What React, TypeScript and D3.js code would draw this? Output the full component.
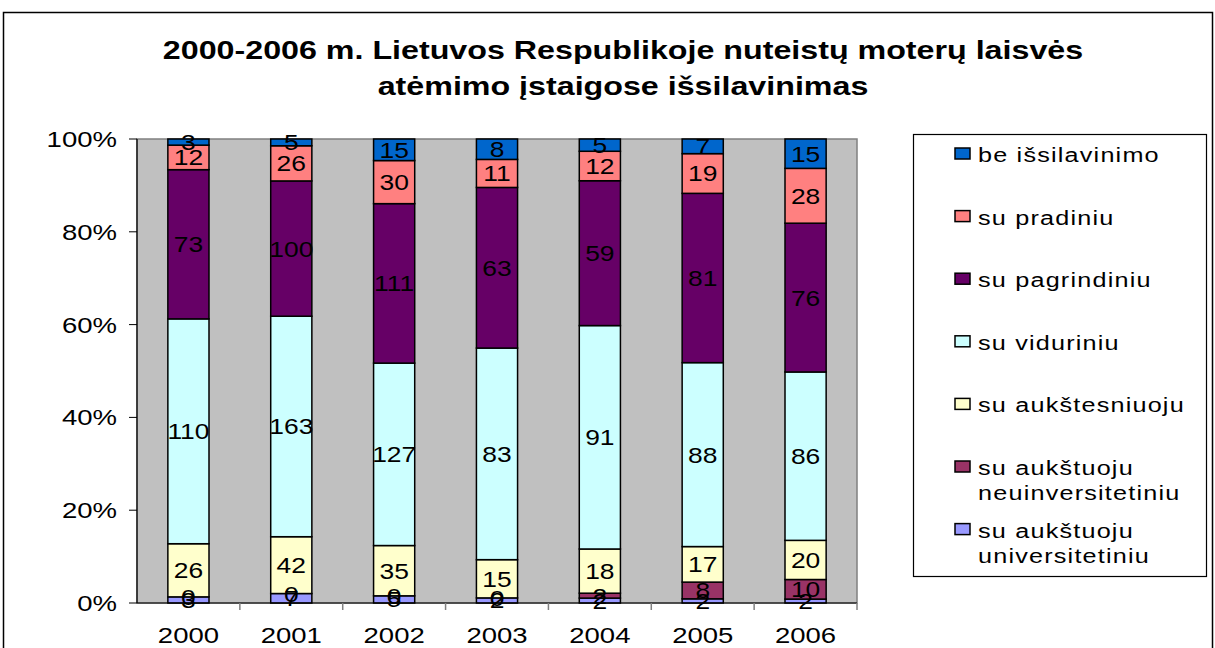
import React from "react";
import * as d3 from "d3";

const years = ["2000", "2001", "2002", "2003", "2004", "2005", "2006"];
const seriesNames = [
  "su aukštuoju universitetiniu",
  "su aukštuoju neuinversitetiniu",
  "su aukštesniuoju",
  "su viduriniu",
  "su pagrindiniu",
  "su pradiniu",
  "be išsilavinimo",
];
const univ = [3, 7, 5, 2, 2, 2, 2];
const neuniv = [0, 0, 0, 0, 2, 8, 10];
const aukstesn = [26, 42, 35, 15, 18, 17, 20];
const vidur = [110, 163, 127, 83, 91, 88, 86];
const pagr = [73, 100, 111, 63, 59, 81, 76];
const prad = [12, 26, 30, 11, 12, 19, 28];
const be = [3, 5, 15, 8, 5, 7, 15];
const colors = ["#9999FF", "#993366", "#FFFFCC", "#CCFFFF", "#660066", "#FF8080", "#0066CC"];
const yTicks = [0, 0.2, 0.4, 0.6, 0.8, 1];
const titleLines = [
  "2000-2006 m. Lietuvos Respublikoje nuteistų moterų laisvės",
  "atėmimo įstaigose išsilavinimas",
];
const legendLines = [
  ["be išsilavinimo"],
  ["su pradiniu"],
  ["su pagrindiniu"],
  ["su viduriniu"],
  ["su aukštesniuoju"],
  ["su aukštuoju", "neuinversitetiniu"],
  ["su aukštuoju", "universitetiniu"],
];

const FONT = "'Liberation Sans', Arial, sans-serif";

function T(props: {
  x: number;
  y: number;
  children: React.ReactNode;
  size: number;
  anchor?: string;
  weight?: string;
  sx?: number;
  ls?: number;
}) {
  const { x, y, children, size, anchor = "start", weight = "normal", sx = 1.2, ls = 0 } = props;
  return (
    <text
      transform={`translate(${x},${y}) scale(${sx},1)`}
      fontFamily={FONT}
      fontSize={size}
      fontWeight={weight}
      textAnchor={anchor}
      letterSpacing={ls}
      fill="#000"
    >
      {children}
    </text>
  );
}

export default function App() {
  const W = 1215;
  const H = 648;
  const left = 137, right = 857, top = 139, bottom = 603;
  const seriesData = [univ, neuniv, aukstesn, vidur, pagr, prad, be];

  const x = d3.scaleBand<string>().domain(years).range([left, right]).paddingInner(0.6).paddingOuter(0.3);
  const xb = d3.scaleBand<string>().domain(years).range([left, right]);
  const y = d3.scaleLinear().domain([0, 1]).range([bottom, top]);

  const rows = years.map((yr, i) => {
    const r: any = { year: yr };
    seriesNames.forEach((s, k) => (r[s] = seriesData[k][i]));
    return r;
  });
  const stacked = d3.stack<any>().keys(seriesNames).offset(d3.stackOffsetExpand)(rows);

  return (
    <svg width={W} height={H} style={{ position: "absolute", left: 0, top: 0 }}>
      <rect x={0} y={0} width={W} height={H} fill="#fff" />
      <rect x={3.5} y={12.5} width={1209} height={660} fill="none" stroke="#000" strokeWidth={1.5} />
      {titleLines.map((t, i) => (
        <T key={i} x={623} y={59 + i * 36} size={26} anchor="middle" weight="bold" sx={1.24}>
          {t}
        </T>
      ))}
      <rect x={left} y={top} width={right - left} height={bottom - top} fill="#C0C0C0" stroke="#808080" strokeWidth={1.5} />
      {stacked.map((layer, k) =>
        layer.map((d, i) => (
          <rect
            key={`${k}-${i}`}
            x={x(years[i])!}
            y={y(d[1])}
            width={x.bandwidth()}
            height={Math.max(0, y(d[0]) - y(d[1]))}
            fill={colors[k]}
            stroke="#000"
            strokeWidth={1.5}
          />
        ))
      )}
      {stacked.map((layer, k) =>
        layer.map((d, i) => (
          <T
            key={`l${k}-${i}`}
            x={x(years[i])! + x.bandwidth() / 2}
            y={(y(d[0]) + y(d[1])) / 2 + 8}
            size={22}
            anchor="middle"
          >
            {seriesData[k][i]}
          </T>
        ))
      )}
      <line x1={left} x2={left} y1={top} y2={bottom} stroke="#000" strokeWidth={1.2} />
      <line x1={left} x2={right} y1={bottom} y2={bottom} stroke="#000" strokeWidth={1.2} />
      {yTicks.map((t) => (
        <g key={t}>
          <line x1={left - 8} x2={left} y1={y(t)} y2={y(t)} stroke="#000" />
          <T x={117} y={y(t) + 8} size={21.5} anchor="end" sx={1.28}>
            {d3.format(".0%")(t)}
          </T>
        </g>
      ))}
      {years.map((yr, i) => (
        <g key={yr}>
          {i > 0 && (
            <line x1={xb(yr)!} x2={xb(yr)!} y1={bottom} y2={bottom + 7} stroke="#808080" strokeWidth={1.5} />
          )}
          <T x={xb(yr)! + xb.bandwidth() / 2} y={643} size={22} anchor="middle" sx={1.25}>
            {yr}
          </T>
        </g>
      ))}
      <line x1={right} x2={right} y1={bottom} y2={bottom + 7} stroke="#808080" strokeWidth={1.5} />
      <rect x={913.5} y={134.5} width={293} height={442} fill="#fff" stroke="#000" strokeWidth={1.2} />
      {legendLines.map((lines, i) => {
        const cy = 154 + i * 62.6;
        const k = seriesNames.length - 1 - i;
        return (
          <g key={i}>
            <rect x={955} y={cy - 6} width={15} height={11} fill={colors[k]} stroke="#000" strokeWidth={1.5} />
            {lines.map((ln, j) => (
              <T key={j} x={978} y={cy + 8 + j * 25} size={21} sx={1.2} ls={1}>
                {ln}
              </T>
            ))}
          </g>
        );
      })}
    </svg>
  );
}
